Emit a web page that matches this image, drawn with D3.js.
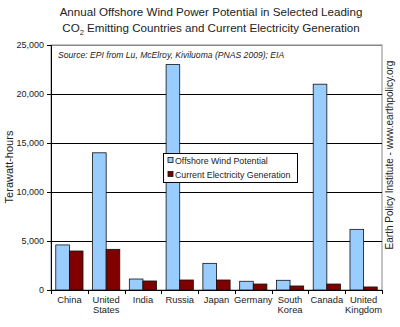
<!DOCTYPE html>
<html><head><meta charset="utf-8">
<script src="https://cdn.jsdelivr.net/npm/d3@7"></script>
<style>body{margin:0;background:#fff}svg{display:block;font-family:"Liberation Sans",Arial,sans-serif}</style>
</head><body><svg id="c" width="400" height="327"></svg>
<script>
const categories = [["China"],["United","States"],["India"],["Russia"],["Japan"],["Germany"],["South","Korea"],["Canada"],["United","Kingdom"]];
const seriesNames = ["Offshore Wind Potential","Current Electricity Generation"];
const windPotential = [4600,14000,1120,23000,2720,890,990,21000,6190];
const currentGen = [3980,4150,920,1020,1020,610,410,610,310];
const yTicks = [0,5000,10000,15000,20000,25000];
const colors = ["#99ccff","#800000"];

const svg = d3.select("#c");
const L=51, R=382, T=45, B=290;
const x = d3.scaleBand().domain(d3.range(categories.length)).range([L,R]).paddingInner(0).paddingOuter(0);
const xs = d3.scaleBand().domain([0,1]).range([0,x.bandwidth()]).paddingInner(0).paddingOuter(0.35);
const y = d3.scaleLinear().domain([0,25000]).range([B,T]);

// title
const t = svg.append("text").attr("text-anchor","middle").attr("font-size",11.6).attr("fill","#222");
t.append("tspan").attr("x",211).attr("y",16).text("Annual Offshore Wind Power Potential in Selected Leading");
const l2 = t.append("tspan").attr("x",211).attr("y",32);
l2.append("tspan").text("CO");
l2.append("tspan").attr("font-size",7.5).attr("dy",3).text("2");
l2.append("tspan").attr("dy",-3).text(" Emitting Countries and Current Electricity Generation");

// plot border
svg.append("rect").attr("x",L).attr("y",T).attr("width",R-L).attr("height",B-T).attr("fill","#fff").attr("stroke","#888").attr("stroke-width",1);

// gridlines
svg.append("g").selectAll("line").data(yTicks.filter(d=>d>0)).join("line")
  .attr("x1",L).attr("x2",R).attr("y1",d=>Math.round(y(d))+0.5).attr("y2",d=>Math.round(y(d))+0.5)
  .attr("stroke",d=>d===25000?"#888":"#000").attr("stroke-width",1);

// y axis
const ya = svg.append("g").attr("transform",`translate(${L},0)`)
  .call(d3.axisLeft(y).tickValues(yTicks).tickSize(4).tickFormat(d3.format(",")));
ya.selectAll("text").attr("font-size",9).attr("fill","#222").attr("font-family","Liberation Sans, Arial, sans-serif");
ya.selectAll("line,path").attr("stroke","#000");

// bars
const series = [windPotential,currentGen];
series.forEach((vals,si)=>{
  svg.append("g").selectAll("rect").data(vals).join("rect")
    .attr("x",(d,i)=>x(i)+xs(si)).attr("width",xs.bandwidth())
    .attr("y",d=>y(d)).attr("height",d=>B-y(d))
    .attr("fill",colors[si]).attr("stroke","#111").attr("stroke-width",0.8);
});

// x axis
const xa = svg.append("g").attr("transform",`translate(0,${B})`);
xa.append("line").attr("x1",L).attr("x2",R).attr("y1",0.5).attr("y2",0.5).attr("stroke","#000");
xa.selectAll("line.tk").data(d3.range(categories.length+1)).join("line").attr("class","tk")
  .attr("x1",i=>Math.round(L+i*x.bandwidth())+0.5).attr("x2",i=>Math.round(L+i*x.bandwidth())+0.5)
  .attr("y1",0).attr("y2",4).attr("stroke","#000");
const xl = xa.selectAll("text").data(categories).join("text")
  .attr("text-anchor","middle").attr("font-size",9.4).attr("fill","#222")
  .attr("transform",(d,i)=>`translate(${x(i)+x.bandwidth()/2},13)`);
xl.each(function(d){
  d3.select(this).selectAll("tspan").data(d).join("tspan").attr("x",0).attr("dy",(s,j)=>j===0?0:10).text(s=>s);
});

// source
svg.append("text").attr("x",58).attr("y",58).attr("font-size",8.6).attr("font-style","italic").attr("fill","#222")
  .text("Source: EPI from  Lu, McElroy, Kiviluoma (PNAS 2009); EIA");

// legend
const lg = svg.append("g").attr("transform","translate(163,153)");
lg.append("rect").attr("x",0.5).attr("y",0.5).attr("width",134).attr("height",29).attr("fill","#fff").attr("stroke","#000");
seriesNames.forEach((n,i)=>{
  lg.append("rect").attr("x",5).attr("y",4.5+i*14).attr("width",5).attr("height",5)
    .attr("fill",colors[i]).attr("stroke","#111").attr("stroke-width",0.8);
  lg.append("text").attr("x",12).attr("y",10.5+i*14).attr("font-size",8.8).attr("fill","#222").text(n);
});

// y title
svg.append("text").attr("transform","translate(13,167) rotate(-90)").attr("text-anchor","middle")
  .attr("font-size",11).attr("fill","#222").text("Terawatt-hours");
// right credit
svg.append("text").attr("transform","translate(393,155) rotate(-90)").attr("text-anchor","middle")
  .attr("font-size",10).attr("fill","#222").text("Earth Policy Institute - www.earthpolicy.org");
</script></body></html>
